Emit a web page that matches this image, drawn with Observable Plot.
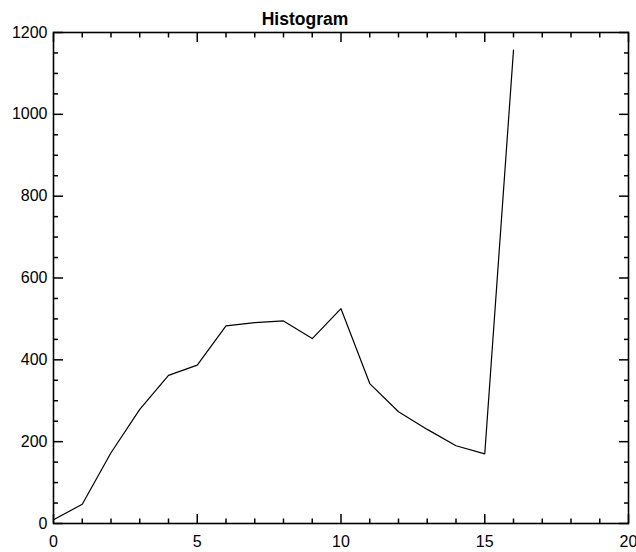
<!DOCTYPE html>
<html>
<head>
<meta charset="utf-8">
<script src="https://cdn.jsdelivr.net/npm/d3@7"></script>
<script src="https://cdn.jsdelivr.net/npm/@observablehq/plot@0.6"></script>
<style>
  html, body { margin: 0; padding: 0; background: #fff; }
</style>
</head>
<body>
<div id="chart"></div>
<script>
const title = "Histogram";
const bins = [0, 1, 2, 3, 4, 5, 6, 7, 8, 9, 10, 11, 12, 13, 14, 15, 16];
const counts = [9, 47, 173, 279, 362, 387, 483, 491, 495, 452, 525, 342, 273, 230, 190, 170, 1157];
const xMajor = [0, 5, 10, 15, 20];
const xMinor = [1, 2, 3, 4, 6, 7, 8, 9, 11, 12, 13, 14, 16, 17, 18, 19];
const yMajor = [0, 200, 400, 600, 800, 1000, 1200];
const yMinor = [50, 100, 150, 250, 300, 350, 450, 500, 550, 650, 700, 750, 850, 900, 950, 1050, 1100, 1150];

const data = bins.map((b, i) => ({x: b, y: counts[i]}));
const blank = () => "";
const plain = d => String(d);

const chart = Plot.plot({
  width: 636,
  height: 552,
  marginLeft: 53,
  marginRight: 8,
  marginTop: 32,
  marginBottom: 29,
  style: {fontFamily: "'Liberation Sans', Arial, sans-serif", fontSize: "16px", color: "black", background: "white"},
  x: {domain: [0, 20]},
  y: {domain: [0, 1200]},
  marks: [
    Plot.line(data, {x: "x", y: "y", stroke: "black", strokeWidth: 1.2}),
    Plot.axisX(xMajor, {anchor: "bottom", tickSize: -9, tickFormat: blank, label: null, strokeWidth: 1.5}),
    Plot.axisX(xMinor, {anchor: "bottom", tickSize: -4.5, tickFormat: blank, label: null, strokeWidth: 1.5}),
    Plot.axisX(xMajor, {anchor: "top", tickSize: -9, tickFormat: blank, label: null, strokeWidth: 1.5}),
    Plot.axisX(xMinor, {anchor: "top", tickSize: -4.5, tickFormat: blank, label: null, strokeWidth: 1.5}),
    Plot.axisY(yMajor, {anchor: "left", tickSize: -10, tickFormat: blank, label: null, strokeWidth: 1.5}),
    Plot.axisY(yMinor, {anchor: "left", tickSize: -5, tickFormat: blank, label: null, strokeWidth: 1.5}),
    Plot.axisY(yMajor, {anchor: "right", tickSize: -10, tickFormat: blank, label: null, strokeWidth: 1.5}),
    Plot.axisY(yMinor, {anchor: "right", tickSize: -5, tickFormat: blank, label: null, strokeWidth: 1.5}),
    Plot.axisX(xMajor, {anchor: "bottom", tickSize: 0, tickPadding: 12, tickFormat: plain, label: null, fontSize: 16}),
    Plot.axisY(yMajor, {anchor: "left", tickSize: 0, tickPadding: 6, tickFormat: plain, label: null, fontSize: 16}),
    Plot.frame({stroke: "black", strokeWidth: 1.6}),
    Plot.text([title], {frameAnchor: "top", dx: -36, dy: -20, fontWeight: "bold", fontSize: 17.5})
  ]
});
document.getElementById("chart").appendChild(chart);
</script>
</body>
</html>
